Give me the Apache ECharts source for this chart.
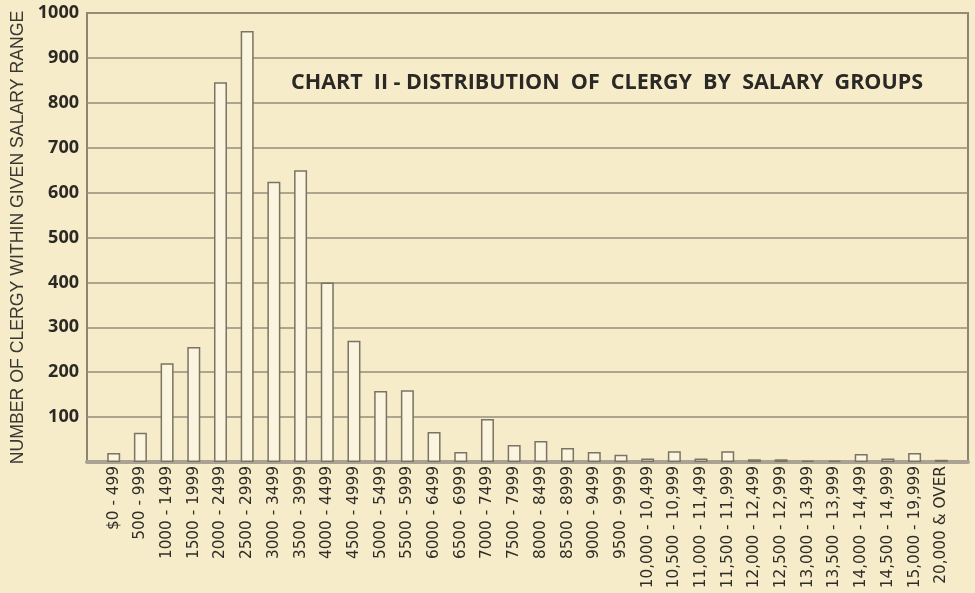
<!DOCTYPE html>
<html>
<head>
<meta charset="utf-8">
<script src="https://cdn.jsdelivr.net/npm/echarts@6/dist/echarts.min.js"></script>
<style>
  html, body { margin: 0; padding: 0; background: #f7ecc9; }
  #chart { width: 975px; height: 593px; }
</style>
</head>
<body>
<div id="chart"></div>
<script>
"use strict";

// salary groups, left → right
const SALARY_GROUPS = [
  "$0 - 499", "500 - 999", "1000 - 1499", "1500 - 1999", "2000 - 2499",
  "2500 - 2999", "3000 - 3499", "3500 - 3999", "4000 - 4499", "4500 - 4999",
  "5000 - 5499", "5500 - 5999", "6000 - 6499", "6500 - 6999", "7000 - 7499",
  "7500 - 7999", "8000 - 8499", "8500 - 8999", "9000 - 9499", "9500 - 9999",
  "10,000 - 10,499", "10,500 - 10,999", "11,000 - 11,499", "11,500 - 11,999",
  "12,000 - 12,499", "12,500 - 12,999", "13,000 - 13,499", "13,500 - 13,999",
  "14,000 - 14,499", "14,500 - 14,999", "15,000 - 19,999", "20,000 & OVER",
];

// number of clergy per group
const CLERGY_COUNT = [
  20, 65, 220, 256, 846, 960, 624, 650, 400, 270,
  158, 160, 67, 22, 96, 38, 47, 31, 22, 16,
  8, 24, 8, 24, 6, 6, 3, 3, 18, 8, 20, 5,
];

const Y_TICKS = [100, 200, 300, 400, 500, 600, 700, 800, 900, 1000];

const TITLE = "CHART  II - DISTRIBUTION  OF  CLERGY  BY  SALARY  GROUPS";
const Y_NAME = "NUMBER OF CLERGY WITHIN GIVEN SALARY RANGE";

const INK = "#2b2925";
const RULE = "#978e7b";

const chart = echarts.init(document.getElementById("chart"));
chart.setOption({
  backgroundColor: "#f7ecc9",
  animation: false,
  title: {
    text: TITLE,
    left: 286, top: 67,
    textStyle: { fontFamily: "Open Sans", fontWeight: "bold", fontSize: 21.5, color: INK },
  },
  grid: {
    left: 87, right: 7, top: 13, bottom: 131,
    outerBoundsMode: "none", containLabel: false,
    show: true, borderColor: "#8c8372", borderWidth: 2, backgroundColor: "transparent",
  },
  // value axis so the group slots line up with the frame as drawn
  xAxis: {
    type: "value", min: -1, max: SALARY_GROUPS.length, interval: 1,
    axisLine: { show: true, lineStyle: { color: "#aaa292", width: 4 } },
    axisTick: { show: false },
    splitLine: { show: false },
    axisLabel: {
      rotate: 90, margin: 4,
      fontFamily: "DejaVu Sans", fontSize: 15.3, color: "#2f2d29",
      formatter: v => SALARY_GROUPS[v] || "",
    },
  },
  yAxis: {
    type: "value", min: 0, max: 1000, interval: 100,
    name: Y_NAME, nameLocation: "middle", nameGap: 57,
    nameTextStyle: { fontFamily: "Liberation Sans", fontSize: 17.7, color: "#3a3833" },
    axisLine: { show: false },
    axisTick: { show: false },
    splitLine: { lineStyle: { color: RULE, width: 1.6 } },
    axisLabel: {
      margin: 8,
      fontFamily: "Open Sans", fontWeight: "bold", fontSize: 18, color: INK,
      formatter: v => (Y_TICKS.includes(v) ? String(v) : ""),
    },
  },
  series: [{
    type: "bar",
    barWidth: 13,
    data: CLERGY_COUNT.map((v, i) => [i, v]),
    itemStyle: { color: "#fbf4de", borderColor: "#7b7363", borderWidth: 1.5 },
  }],
});
</script>
</body>
</html>
